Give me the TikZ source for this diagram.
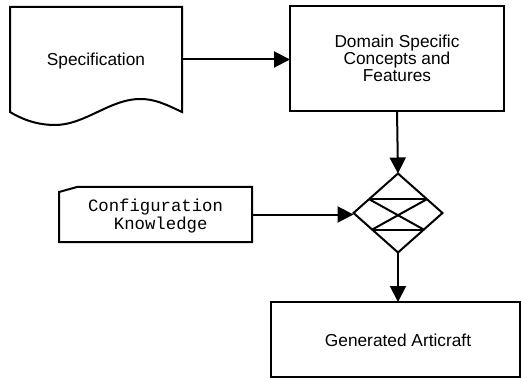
\documentclass[tikz,border=0pt]{standalone}
\usepackage{fontspec}
\setmainfont{Liberation Sans}
\setmonofont{Liberation Mono}
\usetikzlibrary{shapes.geometric,arrows.meta,calc}
\begin{document}
\begin{tikzpicture}[x=1pt,y=-1pt,line width=2pt,
  every node/.style={font=\fontsize{17.3}{17.3}\selectfont, align=center, inner sep=0pt, outer sep=0pt},
  box/.style={draw, rectangle},
  flow/.style={-{Triangle[length=16pt,width=16pt]}},
  ]
\useasboundingbox (0,0) rectangle (521,379);
% Specification document (area of node)
\node (spec) [rectangle, minimum width=172pt, minimum height=105pt] at (96,59.5) {};
\node (spectext) at (96,61) {Specification};
\draw (spec.south west) -- (spec.north west) -- (spec.north east) -- (spec.south east)
  .. controls (165,104) and (155,99) .. (140,99)
  .. controls (110,99) and (85,125) .. (55,125)
  .. controls (35,125) and (20,118) .. (spec.south west) -- cycle;
% Domain box
\node (dom) [box, minimum width=214pt, minimum height=105pt] at (397,58.5)
  {Domain Specific\\Concepts and\\Features};
% Diamond
\node (d) [diamond, draw, minimum width=89pt, minimum height=79pt, aspect=1.1] at (398,213) {};
\coordinate (ul) at ($(d.north)!0.65!(d.west)$);
\coordinate (ur) at ($(d.north)!0.65!(d.east)$);
\coordinate (ll) at ($(d.south)!0.58!(d.west)$);
\coordinate (lr) at ($(d.south)!0.58!(d.east)$);
\draw (ul) -- (ur);
\draw (ll) -- (lr);
\draw (ul) -- (lr);
\draw (ur) -- (ll);
% Configuration knowledge
\node (conf) [rectangle, minimum width=193pt, minimum height=55pt] at (155.5,214.5) {};
\node (conftext) [font=\ttfamily\fontsize{17.3}{17.3}\selectfont] at (155.5,216) {Configuration\\~Knowledge};
\draw ($(conf.north west)+(0,5)$) -- ($(conf.north west)+(18,0)$) -- (conf.north east)
  -- (conf.south east) -- (conf.south west) -- cycle;
% Generated box
\node (gen) [box, minimum width=249pt, minimum height=75pt] at (395.5,339.5) {};
\node (gentext) at (398,340) {Generated Articraft};
% connectors
\draw[flow] (spec.east) -- (dom.west |- spec.east);
\draw[flow] (dom.south) -- (d.north);
\draw[flow] (conf.east) -- (d.west |- conf.east);
\draw[flow] (d.south) -- (d.south |- gen.north);
\end{tikzpicture}
\end{document}
